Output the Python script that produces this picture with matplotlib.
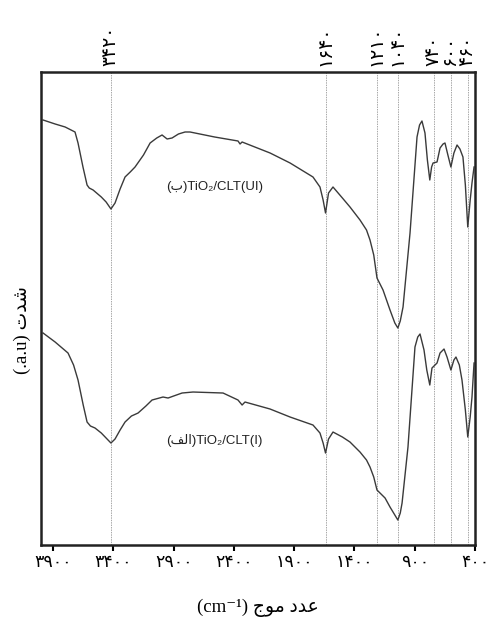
import matplotlib
matplotlib.use('Agg')
import matplotlib.pyplot as plt
import numpy as np

# wavenumbers (cm-1) and intensity (a.u.)
wn_ui = [3983, 3883, 3800, 3718, 3693, 3652, 3618, 3600, 3568, 3500, 3460, 3420, 3386,
         3344, 3303, 3260, 3220, 3150, 3095, 3040, 2996, 2954, 2913, 2860, 2805, 2764,
         2560, 2366, 2349, 2332, 2100, 1934, 1744, 1686, 1660, 1640, 1615, 1578, 1500,
         1437, 1354, 1300, 1271, 1240, 1213, 1163, 1105, 1065, 1040, 1020, 997, 939,
         881, 860, 840, 815, 795, 775, 760, 748, 715, 690, 665, 649, 625, 600, 575, 549,
         525, 500, 480, 460, 440, 425, 408]
t_ui = [425, 421, 418, 413, 402, 378, 360, 357, 355, 348, 343, 336, 342,
        356, 368, 373, 378, 390, 402, 407, 410, 406, 407, 411, 413, 413,
        408, 404, 401, 403, 392, 382, 368, 358, 345, 332, 352, 358, 347,
        338, 325, 315, 305, 290, 267, 255, 235, 222, 217, 224, 238, 312,
        408, 420, 424, 412, 385, 365, 378, 382, 383, 397, 401, 402, 390, 378, 392, 400,
        396, 388, 360, 318, 345, 362, 378]

wn_i = [3983, 3883, 3776, 3730, 3693, 3650, 3618, 3590, 3552, 3500, 3460, 3420, 3386,
        3344, 3303, 3250, 3195, 3130, 3079, 2988, 2946, 2900, 2830, 2739, 2490, 2366,
        2332, 2308, 2100, 1934, 1744, 1686, 1660, 1640, 1615, 1578, 1500, 1437, 1354,
        1300, 1271, 1240, 1213, 1146, 1105, 1065, 1040, 1020, 1005, 956, 898, 875, 856,
        823, 800, 775, 757, 715, 690, 657, 632, 600, 575, 558, 530, 508, 480, 460, 440,
        425, 408]
t_i = [212, 203, 192, 180, 165, 140, 123, 119, 117, 112, 107, 102, 106,
       115, 123, 129, 132, 139, 145, 148, 147, 149, 152, 153, 152, 145,
       140, 143, 136, 128, 120, 112, 102, 92, 106, 113, 108, 103, 93,
       85, 78, 68, 55, 47, 38, 30, 25, 32, 42, 98, 198, 208, 211,
       195, 175, 160, 177, 182, 192, 196, 188, 175, 185, 188, 180, 165, 135, 108, 128,
       148, 182]

marks = [3420, 1640, 1210, 1040, 740, 600, 460]
xticks = [3900, 3400, 2900, 2400, 1900, 1400, 900, 400]

fa = str.maketrans('0123456789', '۰۱۲۳۴۵۶۷۸۹')
def fa_num(v):
    return str(v).translate(fa)

fam = ['Liberation Serif', 'DejaVu Sans']

fig = plt.figure(figsize=(4.93, 6.19), dpi=100)
ax = fig.add_axes([0.0832, 0.1195, 0.8803, 0.7642])

for m in marks:
    ax.axvline(m, color='#a8a8a8', lw=0.7, ls=(0, (1.5, 1)), zorder=1)
    ax.text(m, 1.012, fa_num(m), transform=ax.get_xaxis_transform(), rotation=90,
            ha='center', va='bottom', fontsize=13.5, family=fam)

ax.plot(wn_ui, t_ui, color='#3a3a3a', lw=1.0, zorder=2)
ax.plot(wn_i, t_i, color='#3a3a3a', lw=1.0, zorder=2)

ax.text(2560, 358, '(\uFE8F)TiO\u2082/CLT(UI)', ha='center', va='center',
        fontsize=9.5, family=['Liberation Sans', 'DejaVu Sans'], color='#222222')
ax.text(2560, 105, '(\uFED2\uFEDF\uFE8D)TiO\u2082/CLT(I)', ha='center', va='center',
        fontsize=9.5, family=['Liberation Sans', 'DejaVu Sans'], color='#222222')

ax.set_xlim(4000, 400)
ax.set_ylim(0, 473)
ax.set_xticks(xticks)
ax.set_xticklabels([fa_num(v) for v in xticks], family=fam, fontsize=12.5)
ax.set_yticks([])
ax.tick_params(axis='x', direction='out', length=4, width=1.5, pad=3)
for s in ax.spines.values():
    s.set_linewidth(1.8)
    s.set_color('#222222')

ax.set_xlabel('(cm\u207B\u00B9) \uFE9D\uFEEE\uFEE3 \uFEA9\uFEAA\uFECB', family=fam,
              fontsize=13.5, labelpad=20)
ax.set_ylabel('(.a.u) \uFE95\uFEAA\uFEB7', family=fam, fontsize=13.5)
ax.yaxis.set_label_coords(-0.022, 0.455)

plt.savefig('out.png', dpi=100)
